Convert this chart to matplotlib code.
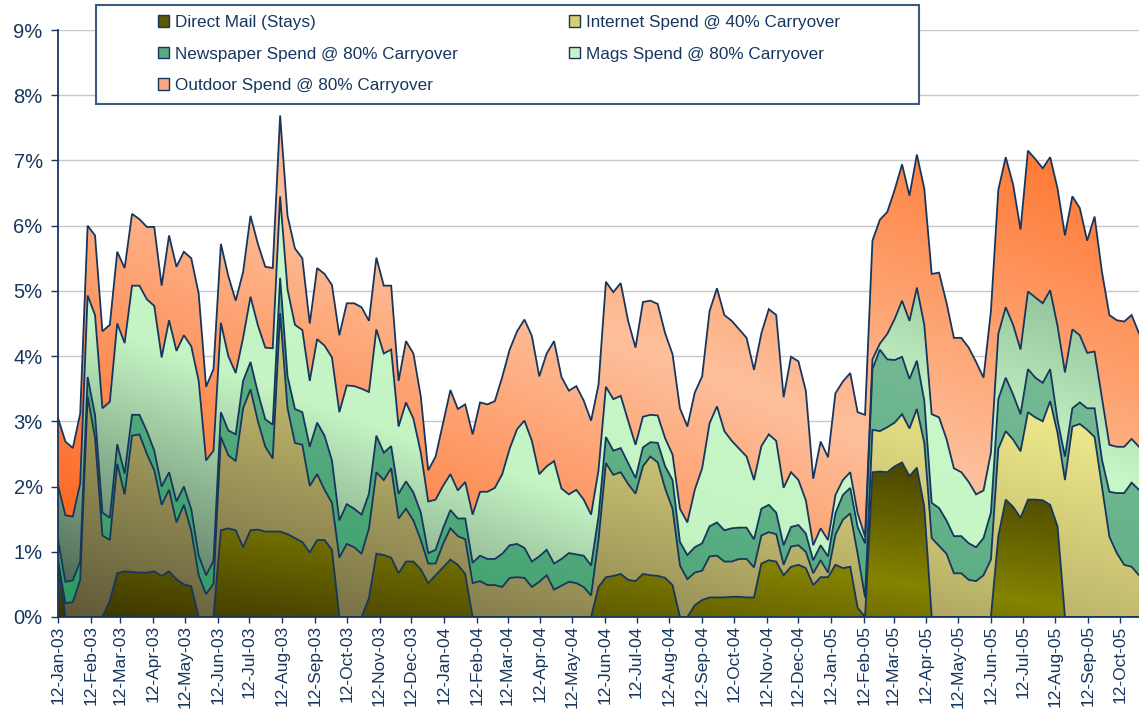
import numpy as np
import pandas as pd
import matplotlib
matplotlib.use('Agg')
import matplotlib.pyplot as plt
import matplotlib.dates as mdates
from matplotlib.patches import Polygon, Patch, Rectangle
from matplotlib.colors import to_rgb
from matplotlib.ticker import MultipleLocator, FuncFormatter

plt.rcParams['font.family'] = ['Liberation Sans', 'DejaVu Sans']

# weekly points, 12-Jan-03 .. 30-Oct-05
weeks = pd.date_range('2003-01-12', periods=147, freq='7D')

# share of sales (%)
direct_mail = [
    0.85, 0, 0, 0, 0, 0, 0, 0.25, 0.67, 0.70, 0.69, 0.68, 0.68, 0.70, 0.63, 0.70, 0.58, 0.50, 0.47, 0,
    0, 0, 1.33, 1.36, 1.33, 1.07, 1.33, 1.34, 1.31, 1.31, 1.31, 1.27, 1.21, 1.15, 0.99, 1.18, 1.18, 1.03, 0, 0,
    0, 0, 0.29, 0.97, 0.95, 0.91, 0.67, 0.85, 0.85, 0.73, 0.52, 0.64, 0.76, 0.88, 0.80, 0.66, 0, 0, 0, 0,
    0, 0, 0, 0, 0, 0, 0, 0, 0, 0, 0, 0, 0, 0.46, 0.61, 0.63, 0.66, 0.57, 0.55, 0.66,
    0.64, 0.63, 0.60, 0.49, 0, 0, 0.18, 0.26, 0.30, 0.30, 0.30, 0.31, 0.31, 0.30, 0.30, 0.82, 0.87, 0.85, 0.64, 0.77,
    0.80, 0.75, 0.49, 0.61, 0.61, 0.80, 0.75, 0.77, 0.14, 0, 2.22, 2.23, 2.22, 2.31, 2.37, 2.16, 2.29, 1.69, 0, 0,
    0, 0, 0, 0, 0, 0, 0, 1.24, 1.80, 1.69, 1.52, 1.80, 1.80, 1.79, 1.72, 1.39, 0, 0, 0, 0,
    0, 0, 0, 0, 0, 0, 0]
internet = [
    0.02, 0.21, 0.23, 0.57, 3.38, 2.75, 1.25, 0.93, 1.68, 1.18, 2.09, 2.12, 1.82, 1.55, 1.09, 1.25, 0.87, 1.22, 0.85, 0.64,
    0.35, 0.51, 1.43, 1.12, 1.06, 2.13, 2.16, 1.66, 1.30, 1.12, 3.35, 1.93, 1.46, 1.49, 1.02, 1.01, 0.77, 0.72, 0.91, 1.12,
    1.07, 0.97, 1.07, 1.25, 1.15, 1.37, 0.84, 0.81, 0.63, 0.45, 0.30, 0.18, 0.36, 0.48, 0.44, 0.53, 0.52, 0.55, 0.49, 0.49,
    0.46, 0.60, 0.61, 0.60, 0.46, 0.54, 0.64, 0.42, 0.48, 0.54, 0.52, 0.46, 0.33, 0.72, 1.75, 1.55, 1.56, 1.47, 1.34, 1.65,
    1.82, 1.74, 1.37, 1.17, 0.79, 0.58, 0.50, 0.45, 0.63, 0.64, 0.55, 0.54, 0.58, 0.59, 0.46, 0.43, 0.43, 0.42, 0.16, 0.31,
    0.30, 0.25, 0.18, 0.26, 0.07, 0.46, 0.74, 0.82, 0.83, 0.30, 0.65, 0.62, 0.69, 0.67, 0.74, 0.73, 0.90, 0.98, 1.21, 1.09,
    0.97, 0.67, 0.67, 0.57, 0.55, 0.64, 0.88, 1.34, 1.05, 1.03, 1.02, 1.34, 1.26, 1.21, 1.59, 1.43, 2.10, 2.92, 2.96, 2.87,
    2.76, 2.00, 1.23, 0.98, 0.80, 0.77, 0.64]
newspaper = [
    0.31, 0.33, 0.33, 0.28, 0.30, 0.35, 0.35, 0.34, 0.30, 0.32, 0.32, 0.30, 0.35, 0.30, 0.28, 0.27, 0.32, 0.28, 0.33, 0.30,
    0.29, 0.35, 0.38, 0.38, 0.41, 0.42, 0.42, 0.44, 0.42, 0.52, 0.54, 0.49, 0.52, 0.50, 0.60, 0.79, 0.83, 0.65, 0.57, 0.61,
    0.59, 0.60, 0.53, 0.56, 0.42, 0.34, 0.38, 0.42, 0.43, 0.42, 0.16, 0.21, 0.24, 0.28, 0.27, 0.32, 0.31, 0.39, 0.40, 0.40,
    0.51, 0.50, 0.51, 0.46, 0.39, 0.39, 0.39, 0.40, 0.41, 0.44, 0.44, 0.48, 0.46, 0.36, 0.40, 0.37, 0.37, 0.32, 0.24, 0.29,
    0.22, 0.30, 0.34, 0.44, 0.36, 0.37, 0.39, 0.42, 0.46, 0.51, 0.48, 0.51, 0.48, 0.48, 0.43, 0.41, 0.42, 0.33, 0.30, 0.30,
    0.31, 0.28, 0.20, 0.23, 0.25, 0.33, 0.38, 0.39, 0.41, 0.83, 0.93, 1.25, 1.04, 0.96, 0.88, 0.76, 0.74, 0.65, 0.54, 0.58,
    0.51, 0.57, 0.57, 0.56, 0.52, 0.57, 0.72, 0.76, 0.82, 0.69, 0.57, 0.66, 0.61, 0.59, 0.49, 0.20, 0.36, 0.28, 0.33, 0.33,
    0.44, 0.41, 0.69, 0.92, 1.10, 1.29, 1.31]
mags = [
    0.84, 1.02, 0.98, 1.20, 1.25, 1.53, 1.60, 1.78, 1.85, 2.00, 1.98, 1.98, 2.02, 2.22, 1.98, 2.33, 2.31, 2.32, 2.50, 2.68,
    1.76, 1.69, 1.37, 1.14, 0.94, 0.66, 1.00, 1.03, 1.10, 1.17, 1.25, 1.33, 1.29, 1.26, 1.01, 1.28, 1.38, 1.58, 1.66, 1.82,
    1.88, 1.93, 1.56, 1.63, 1.52, 1.48, 1.03, 1.21, 1.13, 0.92, 0.79, 0.77, 0.65, 0.55, 0.43, 0.56, 0.74, 0.98, 1.03, 1.09,
    1.22, 1.48, 1.76, 1.95, 1.85, 1.26, 1.28, 1.57, 1.08, 0.90, 0.99, 0.86, 0.78, 0.71, 0.77, 0.79, 0.80, 0.65, 0.51, 0.47,
    0.42, 0.42, 0.43, 0.39, 0.51, 0.50, 0.88, 1.15, 1.58, 1.78, 1.52, 1.34, 1.21, 1.09, 0.91, 0.96, 1.08, 1.10, 0.88, 0.84,
    0.69, 0.51, 0.23, 0.26, 0.25, 0.28, 0.23, 0.24, 0.21, 0.10, 0.15, 0.09, 0.39, 0.63, 0.86, 0.89, 1.12, 1.16, 1.36, 1.39,
    1.25, 1.04, 0.98, 0.94, 0.81, 0.73, 0.92, 1.00, 1.08, 1.07, 0.99, 1.19, 1.23, 1.22, 1.21, 1.44, 1.29, 1.21, 1.03, 0.85,
    0.87, 0.95, 0.72, 0.71, 0.71, 0.67, 0.66]
outdoor = [
    1.03, 1.13, 1.05, 1.07, 1.07, 1.22, 1.18, 1.18, 1.10, 1.15, 1.10, 1.02, 1.11, 1.21, 1.10, 1.30, 1.29, 1.28, 1.35, 1.34,
    1.13, 1.25, 1.21, 1.23, 1.11, 1.01, 1.24, 1.25, 1.24, 1.23, 1.24, 1.13, 1.17, 1.10, 0.88, 1.09, 1.10, 1.11, 1.18, 1.26,
    1.27, 1.25, 1.09, 1.10, 1.04, 0.98, 0.70, 0.94, 1.00, 0.86, 0.48, 0.66, 0.96, 1.29, 1.25, 1.19, 1.23, 1.37, 1.34, 1.33,
    1.49, 1.52, 1.50, 1.55, 1.61, 1.50, 1.73, 1.84, 1.71, 1.59, 1.59, 1.52, 1.44, 1.31, 1.61, 1.64, 1.73, 1.53, 1.49, 1.76,
    1.75, 1.71, 1.61, 1.54, 1.54, 1.47, 1.49, 1.41, 1.72, 1.81, 1.78, 1.84, 1.83, 1.82, 1.69, 1.73, 1.92, 1.93, 1.39, 1.77,
    1.82, 1.68, 1.02, 1.33, 1.27, 1.56, 1.51, 1.52, 1.55, 1.87, 1.82, 1.90, 1.87, 1.98, 2.09, 1.92, 2.04, 2.09, 2.15, 2.22,
    2.09, 2.00, 2.06, 2.06, 2.03, 1.73, 2.17, 2.21, 2.30, 2.15, 1.84, 2.16, 2.12, 2.07, 2.04, 2.11, 2.10, 2.04, 1.95, 1.72,
    2.07, 1.93, 1.99, 1.94, 1.92, 1.90, 1.74]

labels = ['Direct Mail (Stays)', 'Internet Spend @ 40% Carryover',
          'Newspaper Spend @ 80% Carryover', 'Mags Spend @ 80% Carryover',
          'Outdoor Spend @ 80% Carryover']

# diagonal gradient stops per series (like the Excel fill effects)
grads = [
    [(0, '#3a3400'), (0.5, '#858300'), (1, '#3a3400')],
    [(0, '#5e5838'), (0.5, '#c3bb6e'), (0.85, '#f6f292'), (1, '#fffea8')],
    [(0, '#2f9a62'), (0.5, '#62b088'), (1, '#80bf9d')],
    [(0, '#4d6a55'), (0.35, '#c4f4c4'), (0.62, '#c8f7c8'), (1, '#6e9a78')],
    [(0, '#ff6218'), (0.5, '#fdc09c'), (1, '#ff6a1e')],
]
swatch = ['#5a5800', '#d8d070', '#5aaa85', '#c8f2c8', '#f8a880']
navy = '#17365d'


def gradient_band(ax, x, lo, hi, stops, z):
    y0, y1 = lo.min(), hi.max()
    u = np.linspace(0, 1, 500)
    v = np.linspace(0, 1, 300)
    t = (u[None, :] + v[:, None]) / 2
    pos = [s[0] for s in stops]
    cols = np.array([to_rgb(s[1]) for s in stops])
    img = np.stack([np.interp(t, pos, cols[:, i]) for i in range(3)], axis=-1)
    im = ax.imshow(img, extent=[x[0], x[-1], y0, y1], origin='lower',
                   aspect='auto', interpolation='bilinear', zorder=z)
    verts = np.column_stack([np.r_[x, x[::-1]], np.r_[hi, lo[::-1]]])
    poly = Polygon(verts, closed=True, facecolor='none', edgecolor='none',
                   transform=ax.transData)
    ax.add_patch(poly)
    im.set_clip_path(poly)


fig = plt.figure(figsize=(11.39, 7.09), dpi=100)
ax = fig.add_axes([58 / 1139, 92 / 709, 1081 / 1139, 587 / 709])

x = mdates.date2num(weeks)
series = [np.array(s, dtype=float) for s in (direct_mail, internet, newspaper, mags, outdoor)]
tops = np.cumsum(series, axis=0)
bottom = np.zeros(len(x))
for i in range(5):
    gradient_band(ax, x, bottom, tops[i], grads[i], 2 + i * 0.1)
    bottom = tops[i]
for i in range(5):
    ax.plot(x, tops[i], color=navy, lw=1.3, zorder=3, solid_joinstyle='miter')

ax.set_xlim(x[0], x[-1])
ax.set_ylim(0, 9)
ax.yaxis.set_major_locator(MultipleLocator(1))
ax.yaxis.set_major_formatter(FuncFormatter(lambda v, p: f'{v:.0f}%'))
ax.xaxis.set_major_locator(mdates.MonthLocator(bymonthday=12))
ax.xaxis.set_major_formatter(mdates.DateFormatter('%d-%b-%y'))
ax.yaxis.grid(True, color='#c8c8c8', lw=1.0)
ax.set_axisbelow(True)
for s in ('top', 'right'):
    ax.spines[s].set_visible(False)
for s in ('left', 'bottom'):
    ax.spines[s].set_color(navy)
    ax.spines[s].set_linewidth(1.3)
    ax.spines[s].set_zorder(4)
ax.tick_params(axis='y', colors=navy, labelsize=14.5, length=5, width=1, pad=6)
ax.tick_params(axis='x', colors=navy, labelsize=12.5, length=4, width=1, pad=2,
               labelrotation=90)

# legend with a wide frame
fig.patches.append(Rectangle((96 / 1139, 1 - 104 / 709), 823 / 1139, 99 / 709,
                             transform=fig.transFigure, facecolor='white',
                             edgecolor='#3d5a80', lw=1.5, zorder=1))
handles = [Patch(facecolor=swatch[i], edgecolor=navy, lw=1.0, label=labels[i]) for i in range(5)]
order = [0, 2, 4, 1, 3]
fig.legend([handles[i] for i in order], [labels[i] for i in order],
           loc='upper left', bbox_to_anchor=(158 / 1139, 1 - 15 / 709), ncol=2,
           frameon=False, fontsize=12.3, handlelength=0.65, handleheight=0.65,
           handletextpad=0.35, columnspacing=6.5, labelspacing=0.97,
           borderpad=0, borderaxespad=0, labelcolor=navy)

fig.savefig('out.png', dpi=100)
